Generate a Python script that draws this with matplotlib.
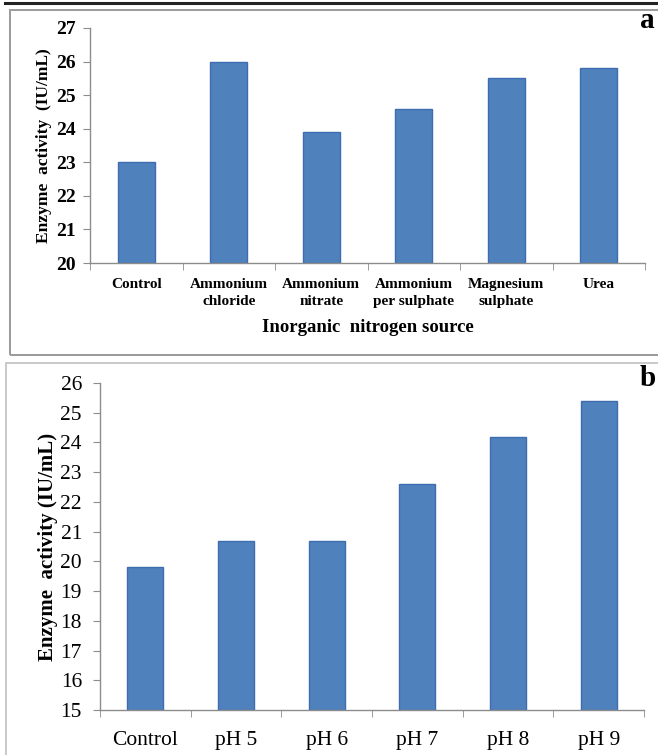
import matplotlib
matplotlib.use("Agg")
import matplotlib.pyplot as plt
from matplotlib.patches import Rectangle
from matplotlib.lines import Line2D

plt.rcParams["font.family"] = ["Liberation Serif", "DejaVu Serif"]

# panel a: inorganic nitrogen source
nitrogen_labels = ["Control", "Ammonium\nchloride", "Ammonium\nnitrate",
                   "Ammonium\nper sulphate", "Magnesium\nsulphate", "Urea"]
nitrogen_values = [23.0, 26.0, 23.9, 24.6, 25.5, 25.8]
nitrogen_ticks = [20, 21, 22, 23, 24, 25, 26, 27]

# panel b: pH
ph_labels = ["Control", "pH 5", "pH 6", "pH 7", "pH 8", "pH 9"]
ph_values = [19.8, 20.7, 20.7, 22.6, 24.2, 25.4]
ph_ticks = list(range(15, 27))

bar_color = "#4F81BD"
edge_color = "#3D6DAF"
axis_color = "#8C8C8C"

W, H = 658, 755
fig = plt.figure(figsize=(W / 100, H / 100), dpi=100)


def fx(px):
    return px / W


def fy(py):
    return 1 - py / H


# frames around the two panels and the black rule at the top
fig.add_artist(Line2D([fx(5), fx(658)], [fy(3), fy(3)], color="#222222",
                      lw=2.2, transform=fig.transFigure))
fig.add_artist(Rectangle((fx(10), fy(355)), fx(660) - fx(10), fy(10) - fy(355),
                         transform=fig.transFigure, fill=False,
                         edgecolor="#9A9A9A", lw=1.4))
fig.add_artist(Rectangle((fx(6), fy(770)), fx(660) - fx(6), fy(363) - fy(770),
                         transform=fig.transFigure, fill=False,
                         edgecolor="#C0C0C0", lw=1.2))


def setup_axis(ax, labels, ticks, tick_font, tick_weight, label_pad, ypad,
               spacing):
    n = len(labels)
    for side in ["top", "right"]:
        ax.spines[side].set_visible(False)
    for side in ["left", "bottom"]:
        ax.spines[side].set_color(axis_color)
        ax.spines[side].set_linewidth(1.0)
    ax.set_xlim(-0.5, n - 0.5)
    ax.set_xticks(range(n))
    ax.set_xticklabels(labels, fontsize=tick_font[0], fontweight=tick_weight,
                       linespacing=spacing)
    ax.set_xticks([i - 0.5 for i in range(n + 1)], minor=True)
    ax.tick_params(axis="x", which="major", length=0, pad=label_pad)
    ax.tick_params(axis="x", which="minor", length=5, color=axis_color,
                   direction="out")
    ax.set_ylim(ticks[0], ticks[-1])
    ax.set_yticks(ticks)
    ax.set_yticklabels([str(t) for t in ticks], fontsize=tick_font[1],
                       fontweight=tick_weight)
    ax.tick_params(axis="y", length=5, color=axis_color, direction="out",
                   pad=ypad)


# panel a
ax1 = fig.add_axes([fx(90), fy(263), fx(645) - fx(90), fy(28) - fy(263)])
ax1.bar(range(len(nitrogen_values)), [v - nitrogen_ticks[0] for v in nitrogen_values],
        bottom=nitrogen_ticks[0], width=0.4, color=bar_color,
        edgecolor=edge_color, linewidth=1.0)
setup_axis(ax1, nitrogen_labels, nitrogen_ticks, (11, 14), "bold", 11, 5, 1.4)
ax1.set_xlabel("Inorganic  nitrogen source", fontsize=13.5, fontweight="bold",
               labelpad=8)
ax1.set_ylabel("Enzyme  activity  (IU/mL)", fontsize=12.5, fontweight="bold",
               labelpad=3)
fig.text(fx(655), fy(21), "a", fontsize=21, fontweight="bold",
         ha="right", va="center")

# panel b
ax2 = fig.add_axes([fx(100), fy(710), fx(644) - fx(100), fy(383) - fy(710)])
ax2.bar(range(len(ph_values)), [v - ph_ticks[0] for v in ph_values],
        bottom=ph_ticks[0], width=0.4, color=bar_color,
        edgecolor=edge_color, linewidth=1.0)
setup_axis(ax2, ph_labels, ph_ticks, (15.5, 15.5), "normal", 15, 8, 1.2)
ax2.set_ylabel("Enzyme  activity (IU/mL)", fontsize=15, fontweight="bold",
               labelpad=2)
fig.text(fx(656), fy(378), "b", fontsize=21, fontweight="bold",
         ha="right", va="center")

fig.savefig("out.png", dpi=100)
